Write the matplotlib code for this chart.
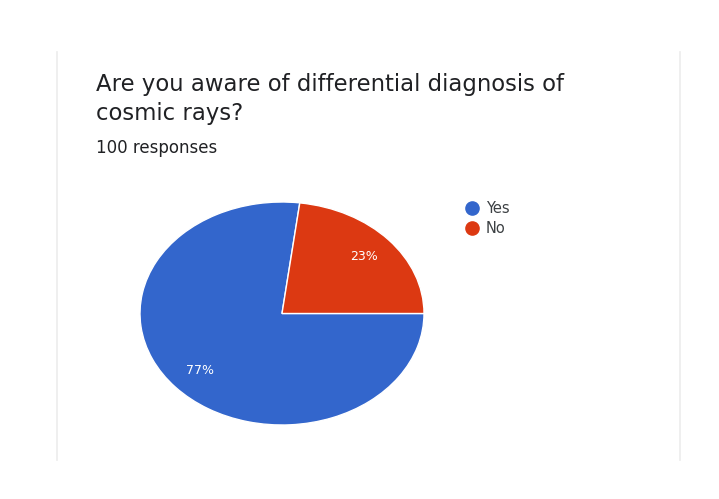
import matplotlib.pyplot as plt
from matplotlib.lines import Line2D

# survey answers
answers = ["Yes", "No"]
shares = [77, 23]
colors = ["#3366cc", "#dc3912"]

question = "Are you aware of differential diagnosis of\ncosmic rays?"
n_responses = 100

W, H = 719, 499
fig = plt.figure(figsize=(W / 100, H / 100), dpi=100)
fig.patch.set_facecolor("white")
font = "DejaVu Sans"


def fx(px):
    return px / W


def fy(py):
    return 1 - py / H


# card edges
for x in (57, 680):
    fig.add_artist(Line2D([fx(x), fx(x)], [fy(52), fy(460)], color="#ececec", lw=1.2))

line1, line2 = question.split("\n")
fig.text(fx(96), fy(91), line1, fontsize=16.4, family=font,
         color="#202124", va="baseline")
fig.text(fx(96), fy(120), line2, fontsize=16.4, family=font,
         color="#202124", va="baseline")
fig.text(fx(96), fy(153), f"{n_responses} responses", fontsize=12, family=font,
         color="#202124", va="baseline")

# pie is stretched horizontally, so the axes box is wider than tall
ax = fig.add_axes([fx(140), fy(425), fx(424) - fx(140), (425 - 202) / H])
wedges, texts, autotexts = ax.pie(
    shares, colors=colors, startangle=0, counterclock=False,
    autopct="%d%%", pctdistance=0.77,
    wedgeprops=dict(edgecolor="white", linewidth=1.0),
    textprops=dict(color="white", fontsize=9, family=font),
)
ax.set_aspect("auto")
ax.set_xlim(-1, 1)
ax.set_ylim(-1, 1)
ax.axis("off")

handles = [Line2D([], [], marker="o", ls="", markersize=9.5, color=c) for c in colors]
leg = fig.legend(handles, answers, loc="upper left", bbox_to_anchor=(fx(459), fy(194)),
                 frameon=False, handlelength=0.8, handletextpad=0.55,
                 labelspacing=0.3, borderpad=0,
                 prop=dict(family=font, size=10.5))
for t in leg.get_texts():
    t.set_color("#3c4043")

fig.savefig("out.png", dpi=100)
